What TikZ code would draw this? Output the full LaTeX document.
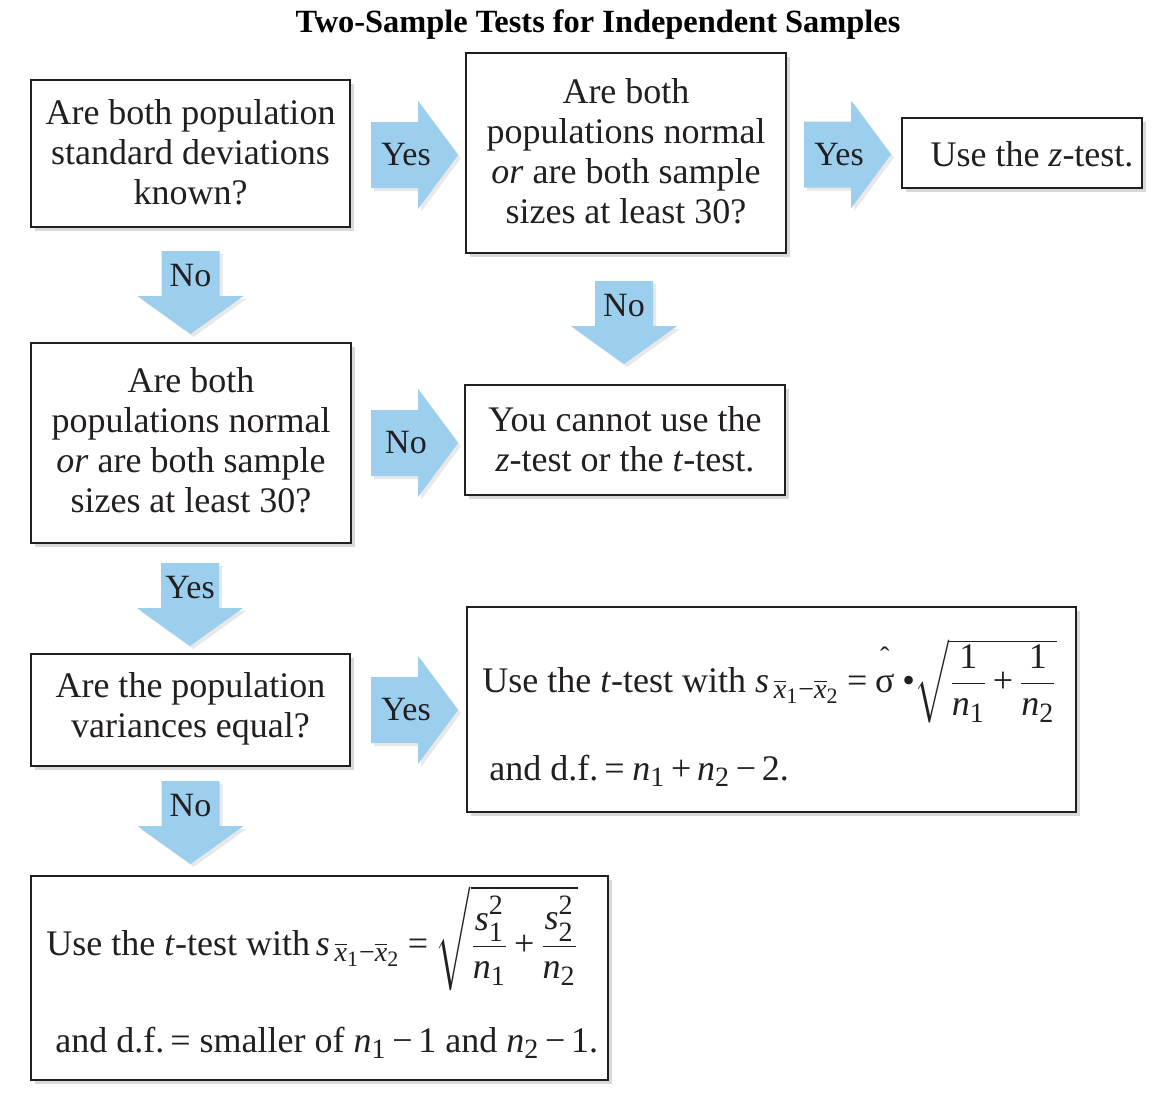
\documentclass[tikz,border=0pt]{standalone}
\usepackage{amsmath}
\usepackage{fontspec}
\setmainfont{Liberation Serif}
\usetikzlibrary{calc,fit,shadows}
\definecolor{arrowblue}{RGB}{156,206,238}
\definecolor{boxline}{RGB}{35,31,32}
\DeclareMathSizes{18}{18}{14}{11}
\newcommand{\tv}[1]{\text{\itshape #1}}
\newcommand{\tn}[1]{\text{#1}}
\newcommand{\Eq}{\mathrel{\text{=}}}
\newcommand{\Pl}{\mathbin{\text{+}}}
\newcommand{\Mi}{\mathbin{\text{−}}}
\newcommand{\Sq}{\raisebox{1.5pt}{$\scriptstyle\tn{2}$}}
\tikzset{
  box/.style={draw=boxline, line width=1pt, fill=white, inner sep=0pt,
    drop shadow={shadow xshift=2pt, shadow yshift=-2pt, opacity=0.3, fill=black!50}},
  boxlbl/.style={inner sep=0pt, align=center, text=boxline, font=\fontsize{18}{20}\selectfont},
  boxtext/.style={inner sep=0pt, anchor=base west, text=boxline, font=\fontsize{18}{20}\selectfont},
  lbl/.style={inner sep=0pt, text=boxline, font=\fontsize{17}{20}\selectfont},
  title/.style={inner sep=0pt, text=black, font=\bfseries\fontsize{16.2}{18}\selectfont},
  blockarrow/.style={fill=arrowblue},
  blockshadow/.style={fill=black, opacity=0.09},
}
% right block arrow: #1 left-mid point, #2 label, #3 label name
\newcommand{\RArrow}[3]{%
  \path (#1) coordinate (ra-#3);
  \fill[blockshadow] ($(ra-#3)+(3,3)$) ++(0,-33) -- ++(47,0) -- ++(0,-21) -- ++(40,54) -- ++(-40,54) -- ++(0,-21) -- ++(-47,0) -- cycle;
  \fill[blockarrow] (ra-#3) ++(0,-33) -- ++(47,0) -- ++(0,-21) -- ++(40,54) -- ++(-40,54) -- ++(0,-21) -- ++(-47,0) -- cycle;
  \node[lbl] (#3) at ($(ra-#3)+(35,0)$) {#2};
}
% down block arrow: #1 top-centre point, #2 label, #3 label name
\newcommand{\DArrow}[3]{%
  \path (#1) coordinate (da-#3);
  \fill[blockshadow] ($(da-#3)+(3,3)$) ++(-29,0) -- ++(58,0) -- ++(0,45) -- ++(24,0) -- ++(-53,38) -- ++(-53,-38) -- ++(24,0) -- cycle;
  \fill[blockarrow] (da-#3) ++(-29,0) -- ++(58,0) -- ++(0,45) -- ++(24,0) -- ++(-53,38) -- ++(-53,-38) -- ++(24,0) -- cycle;
  \node[lbl] (#3) at ($(da-#3)+(0,25)$) {#2};
}
\begin{document}
\begin{tikzpicture}[x=0.5pt,y=-0.5pt]
\useasboundingbox (0,0) rectangle (1164,1103);
\medmuskip=3mu plus 2mu minus 3mu
\thickmuskip=4mu plus 3mu

\node[title] (T) at (598,25) {Two-Sample Tests for Independent Samples};

\node[box, fit={(31,80) (350,227)}] (A) {};
\node[box, fit={(466,53) (786,253)}] (B) {};
\node[box, fit={(902,118) (1142,188)}] (C) {};
\node[box, fit={(31,343) (351,543)}] (D) {};
\node[box, fit={(465,385) (785,495)}] (E) {};
\node[box, fit={(31,654) (350,766)}] (F) {};
\node[box, fit={(467,607) (1076,812)}] (G) {};
\node[box, fit={(31,876) (608,1080)}] (H) {};

\node[boxlbl] (A-t) at ($(A.center)+(0,-1)$) {Are both population\\standard deviations\\known?};
\node[boxlbl] (B-t) at ($(B.center)+(0,-2)$) {Are both\\populations normal\\\textit{or} are both sample\\sizes at least 30?};
\node[boxlbl] (C-t) at ($(C.center)+(10,1)$) {Use the \textit{z}-test.};
\node[boxlbl] (D-t) at ($(D.center)+(0,-3)$) {Are both\\populations normal\\\textit{or} are both sample\\sizes at least 30?};
\node[boxlbl] (E-t) at ($(E.center)+(0,-1)$) {You cannot use the\\\textit{z}-test or the \textit{t}-test.};
\node[boxlbl] (F-t) at ($(F.center)+(0,-1)$) {Are the population\\variances equal?};

\node[boxtext] (G1) at ($(G.north west)+(16,86)$)
  {Use the \textit{t}-test with $\tv{s}_{\,\overline{\tv{x}}_{\tn{1}}\Mi\overline{\tv{x}}_{\tn{2}}}\Eq\overset{\text{ˆ}}{\text{σ}}\;\text{•}\sqrt{\dfrac{\tn{1}}{\tv{n}_{\tn{1}}}\Pl\dfrac{\tn{1}}{\tv{n}_{\tn{2}}}}$};
\node[boxtext] (G2) at ($(G.north west)+(23,174)$)
  {and d.f.\,$\Eq\tv{n}_{\tn{1}}\Pl\tv{n}_{\tn{2}}\Mi\tn{2}$.};
\node[boxtext] (H1) at ($(H.north west)+(16,80)$)
  {Use the \textit{t}-test with$\,\tv{s}_{\,\overline{\tv{x}}_{\tn{1}}\Mi\overline{\tv{x}}_{\tn{2}}}\Eq\sqrt{\dfrac{\tv{s}_{\tn{1}}^{\Sq}}{\tv{n}_{\tn{1}}}\Pl\dfrac{\tv{s}_{\tn{2}}^{\Sq}}{\tv{n}_{\tn{2}}}}$};
\node[boxtext] (H2) at ($(H.north west)+(25,177)$)
  {and d.f.\,$\Eq$ smaller of $\tv{n}_{\tn{1}}\Mi\tn{1}$ and $\tv{n}_{\tn{2}}\Mi\tn{1}$.};

\RArrow{$(A.east)+(20,1.5)$}{Yes}{AB}
\RArrow{$(B.east)+(17,1.5)$}{Yes}{BC}
\RArrow{$(D.east)+(19,0)$}{No}{DE}
\RArrow{$(F.east)+(20,0)$}{Yes}{FG}
\DArrow{$(A.south)+(0,23)$}{No}{AD}
\DArrow{$(B.south)+(-2,27)$}{No}{BE}
\DArrow{$(D.south)+(-1,19)$}{Yes}{DF}
\DArrow{$(F.south)+(0,14)$}{No}{FH}
\end{tikzpicture}
\end{document}
